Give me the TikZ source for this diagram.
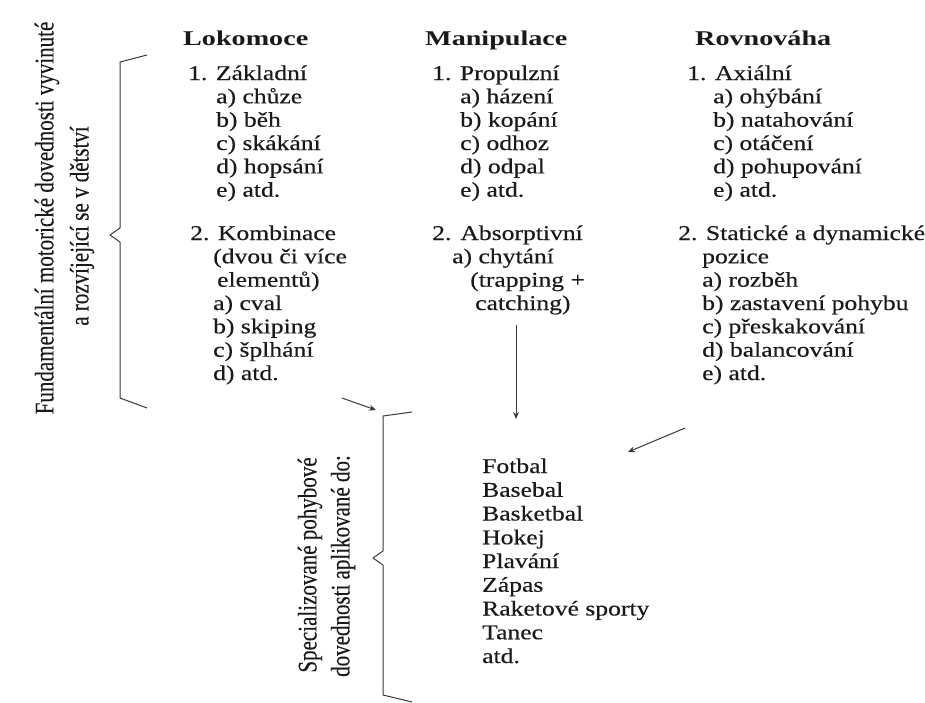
\documentclass[tikz,border=0pt]{standalone}
\usepackage{fontspec}
\usetikzlibrary{arrows.meta}
\setmainfont{Liberation Serif}
\newfontfamily\bodyfont[FakeStretch=1.22,FakeBold=0.3]{Liberation Serif}
\newfontfamily\headfont[FakeStretch=1.34]{Liberation Serif}
\newfontfamily\rotfont[FakeBold=0.3]{Liberation Serif}
\definecolor{ink}{HTML}{1A1A1A}
\definecolor{linegray}{HTML}{3A3A3A}
\begin{document}
\begin{tikzpicture}[x=1pt,y=-1pt,
  txt/.style={anchor=base west,inner sep=0pt,text=ink,font=\bodyfont\fontsize{21}{23}\selectfont},
  head/.style={anchor=base west,inner sep=0pt,text=ink,font=\headfont\bfseries\fontsize{21}{23}\selectfont},
  rot/.style={anchor=center,inner sep=0pt,text=ink,rotate=90,font=\rotfont\fontsize{21}{24}\selectfont},
  bracket/.style={draw=linegray,line width=1pt,line join=round},
  arr/.style={draw=linegray,line width=1pt,-{Stealth[length=7pt,width=6pt]}}]
\useasboundingbox[fill=white] (0,0) rectangle (925,702);

% ---- Lokomoce
\node[head] (h1) at (183,45) {Lokomoce};
\node[txt] (l1) at (188,80) {1. Základní};
\node[txt] (l1a) at (216,103.3) {a) chůze};
\node[txt] (l1b) at (216,126.7) {b) běh};
\node[txt] (l1c) at (216,150) {c) skákání};
\node[txt] (l1d) at (216,173.3) {d) hopsání};
\node[txt] (l1e) at (216,196.7) {e) atd.};
\node[txt] (l2) at (190,240) {2. Kombinace};
\node[txt] (l2x) at (213,263.3) {(dvou či více};
\node[txt] (l2y) at (217,286.7) {elementů)};
\node[txt] (l2a) at (213,310) {a) cval};
\node[txt] (l2b) at (213,333.3) {b) skiping};
\node[txt] (l2c) at (213,356.7) {c) šplhání};
\node[txt] (l2d) at (213,380) {d) atd.};

% ---- Manipulace
\node[head] (h2) at (425,45) {Manipulace};
\node[txt] (m1) at (432,80) {1. Propulzní};
\node[txt] (m1a) at (460,103.3) {a) házení};
\node[txt] (m1b) at (460,126.7) {b) kopání};
\node[txt] (m1c) at (460,150) {c) odhoz};
\node[txt] (m1d) at (460,173.3) {d) odpal};
\node[txt] (m1e) at (460,196.7) {e) atd.};
\node[txt] (m2) at (432,240) {2.\hskip 9pt Absorptivní};
\node[txt] (m2a) at (452,263.3) {a) chytání};
\node[txt] (m2x) at (470,286.7) {(trapping +};
\node[txt] (m2y) at (475,310) {catching)};

% ---- Rovnováha
\node[head] (h3) at (695,45) {Rovnováha};
\node[txt] (r1) at (687,80) {1. Axiální};
\node[txt] (r1a) at (713,103.3) {a) ohýbání};
\node[txt] (r1b) at (713,126.7) {b) natahování};
\node[txt] (r1c) at (713,150) {c) otáčení};
\node[txt] (r1d) at (713,173.3) {d) pohupování};
\node[txt] (r1e) at (713,196.7) {e) atd.};
\node[txt] (r2) at (678,240) {2. Statické a dynamické};
\node[txt] (r2x) at (702,263.3) {pozice};
\node[txt] (r2a) at (702,286.7) {a) rozběh};
\node[txt] (r2b) at (702,310) {b) zastavení pohybu};
\node[txt] (r2c) at (702,333.3) {c) přeskakování};
\node[txt] (r2d) at (702,356.7) {d) balancování};
\node[txt] (r2e) at (702,380) {e) atd.};

% ---- sports
\node[txt] (s1) at (482,473) {Fotbal};
\node[txt] (s2) at (482,496.75) {Basebal};
\node[txt] (s3) at (482,520.5) {Basketbal};
\node[txt] (s4) at (482,544.25) {Hokej};
\node[txt] (s5) at (482,568) {Plavání};
\node[txt] (s6) at (482,591.75) {Zápas};
\node[txt] (s7) at (482,615.5) {Raketové sporty};
\node[txt] (s8) at (482,639.25) {Tanec};
\node[txt] (s9) at (482,663) {atd.};

% ---- rotated labels
\node[rot] (f1) at (47,218) {\scalebox{1}[1.28]{Fundamentální motorické dovednosti vyvinuté}};
\node[rot] (f2) at (82,226) {\scalebox{1}[1.28]{a rozvíjející se v dětství}};
\node[rot] (g1) at (310,565) {\scalebox{1}[1.28]{Specializované pohybové}};
\node[rot] (g2) at (343,566) {\scalebox{1}[1.28]{dovednosti aplikované do:}};

% ---- brackets
\draw[bracket] (147,55) -- (120,62) -- (120,228) -- (110,235) -- (120,242) -- (120,398) -- (147,408);
\draw[bracket] (412,412) -- (383,416) -- (383,551) -- (373,558) -- (383,565) -- (383,695) -- (412,702);

% ---- arrows
\coordinate (a1s) at (342,398);
\coordinate (a1e) at (376,410);
\coordinate (a2s) at (516,325);
\coordinate (a2e) at (516,419);
\coordinate (a3s) at (685,428);
\coordinate (a3e) at (628,452);
\draw[arr] (a1s) -- (a1e);
\draw[arr] (a2s) -- (a2e);
\draw[arr] (a3s) -- (a3e);
\end{tikzpicture}
\end{document}
